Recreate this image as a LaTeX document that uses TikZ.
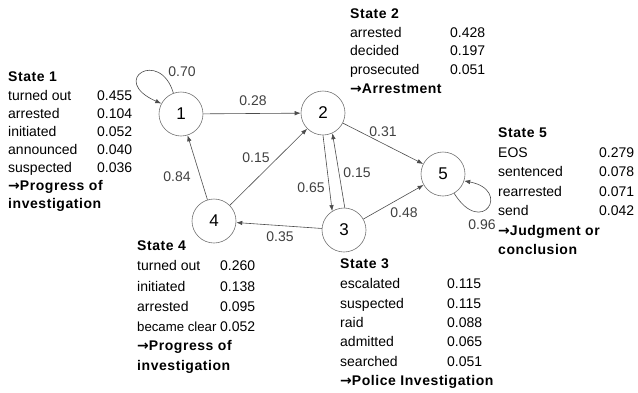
\documentclass[tikz,border=0pt]{standalone}
\usepackage{fontspec}
\setmainfont{Liberation Sans}
\newfontfamily\headfont[LetterSpace=4]{Liberation Sans}
\newfontfamily\arrowfont{DejaVu Sans}
\newcommand{\conclarrow}{{\arrowfont\bfseries →}}
\usetikzlibrary{arrows.meta}
\begin{document}
\begin{tikzpicture}[x=1pt,y=-1pt,
  state/.style={circle,draw=black!55,line width=0.6pt,minimum size=44pt,inner sep=0pt,font=\fontsize{17}{17}\selectfont},
  edge/.style={draw=black!70,line width=0.6pt,-{Latex[length=6pt,width=4.5pt]}},
  elabel/.style={font=\fontsize{14}{14}\selectfont,text=black!75,inner sep=0pt},
  txt/.style={anchor=base west,inner sep=0pt,font=\fontsize{14}{14}\selectfont},
  head/.style={txt,font=\fontsize{14}{14}\headfont\bfseries}]
\useasboundingbox (0,0) rectangle (638,392);

% states
\node[state] (s1) at (181,114) {1};
\node[state] (s2) at (323,113) {2};
\node[state] (s3) at (344,230) {3};
\node[state] (s4) at (214,221) {4};
\node[state] (s5) at (443,174) {5};

% transitions
\draw[edge] (s1) -- (s2);
\draw[edge] (s2) -- (s5);
\draw[edge] (s4) -- (s2);
\draw[edge] (s4) -- (s1);
\draw[edge] (s2.-90) -- (s3.122);
\draw[edge] (s3.88) -- (s2.-65);
\draw[edge] (s3) -- (s5);
\draw[edge] (s3) -- (s4);
\draw[edge] (s1.110) .. controls (160,48) and (108,80) .. (s1.152);
\draw[edge] (s5.-60) .. controls (482,238) and (512,190) .. (s5.-18);

% transition probabilities
\node[elabel] (l11) at (182,72)  {0.70};
\node[elabel] (l12) at (253,101) {0.28};
\node[elabel] (l25) at (383,132) {0.31};
\node[elabel] (l42) at (256,158) {0.15};
\node[elabel] (l41) at (177,177) {0.84};
\node[elabel] (l23) at (311,188) {0.65};
\node[elabel] (l32) at (357,173) {0.15};
\node[elabel] (l35) at (404,213) {0.48};
\node[elabel] (l34) at (280,237) {0.35};
\node[elabel] (l55) at (482,225) {0.96};

% State 1
\begin{scope}[shift={(8,0)}]
\node[head] (h1) at (0,81) {State 1};
\node[txt] (a1) at (0,100) {turned out};   \node[txt] (b1) at (89,100) {0.455};
\node[txt] (a2) at (0,118) {arrested};     \node[txt] (b2) at (89,118) {0.104};
\node[txt] (a3) at (0,136) {initiated};    \node[txt] (b3) at (89,136) {0.052};
\node[txt] (a4) at (0,154) {announced};    \node[txt] (b4) at (89,154) {0.040};
\node[txt] (a5) at (0,172) {suspected};    \node[txt] (b5) at (89,172) {0.036};
\node[head] (c1) at (0,190) {\conclarrow Progress of};
\node[head] (c2) at (0,208) {investigation};
\end{scope}

% State 2
\begin{scope}[shift={(350,0)}]
\node[head] (h2) at (0,18) {State 2};
\node[txt] (d1) at (0,37) {arrested};     \node[txt] (e1) at (100,37) {0.428};
\node[txt] (d2) at (0,55) {decided};      \node[txt] (e2) at (100,55) {0.197};
\node[txt] (d3) at (0,74) {prosecuted};   \node[txt] (e3) at (100,74) {0.051};
\node[head] (f1) at (0,93) {\conclarrow Arrestment};
\end{scope}

% State 5
\begin{scope}[shift={(498,0)}]
\node[head] (h5) at (0,137) {State 5};
\node[txt] (g1) at (0,157) {EOS};         \node[txt] (k1) at (101,157) {0.279};
\node[txt] (g2) at (0,176) {sentenced};   \node[txt] (k2) at (101,176) {0.078};
\node[txt] (g3) at (0,196) {rearrested};  \node[txt] (k3) at (101,196) {0.071};
\node[txt] (g4) at (0,215) {send};        \node[txt] (k4) at (101,215) {0.042};
\node[head] (m1) at (0,235) {\conclarrow Judgment or};
\node[head] (m2) at (0,254) {conclusion};
\end{scope}

% State 4
\begin{scope}[shift={(137,0)}]
\node[head] (h4) at (0,250) {State 4};
\node[txt] (n1) at (0,270) {turned out};    \node[txt] (p1) at (83,270) {0.260};
\node[txt] (n2) at (0,291) {initiated};     \node[txt] (p2) at (83,291) {0.138};
\node[txt] (n3) at (0,311) {arrested};      \node[txt] (p3) at (83,311) {0.095};
\node[txt,font=\fontsize{13.2}{14}\selectfont] (n4) at (0,331) {became clear};
\node[txt] (p4) at (83,331) {0.052};
\node[head] (q1) at (0,350) {\conclarrow Progress of};
\node[head] (q2) at (0,370) {investigation};
\end{scope}

% State 3
\begin{scope}[shift={(340,0)}]
\node[head] (h3) at (0,268) {State 3};
\node[txt] (r1) at (0,288) {escalated};   \node[txt] (t1) at (107,288) {0.115};
\node[txt] (r2) at (0,308) {suspected};   \node[txt] (t2) at (107,308) {0.115};
\node[txt] (r3) at (0,327) {raid};        \node[txt] (t3) at (107,327) {0.088};
\node[txt] (r4) at (0,346) {admitted};    \node[txt] (t4) at (107,346) {0.065};
\node[txt] (r5) at (0,366) {searched};    \node[txt] (t5) at (107,366) {0.051};
\node[head] (u1) at (0,385) {\conclarrow Police Investigation};
\end{scope}
\end{tikzpicture}
\end{document}
